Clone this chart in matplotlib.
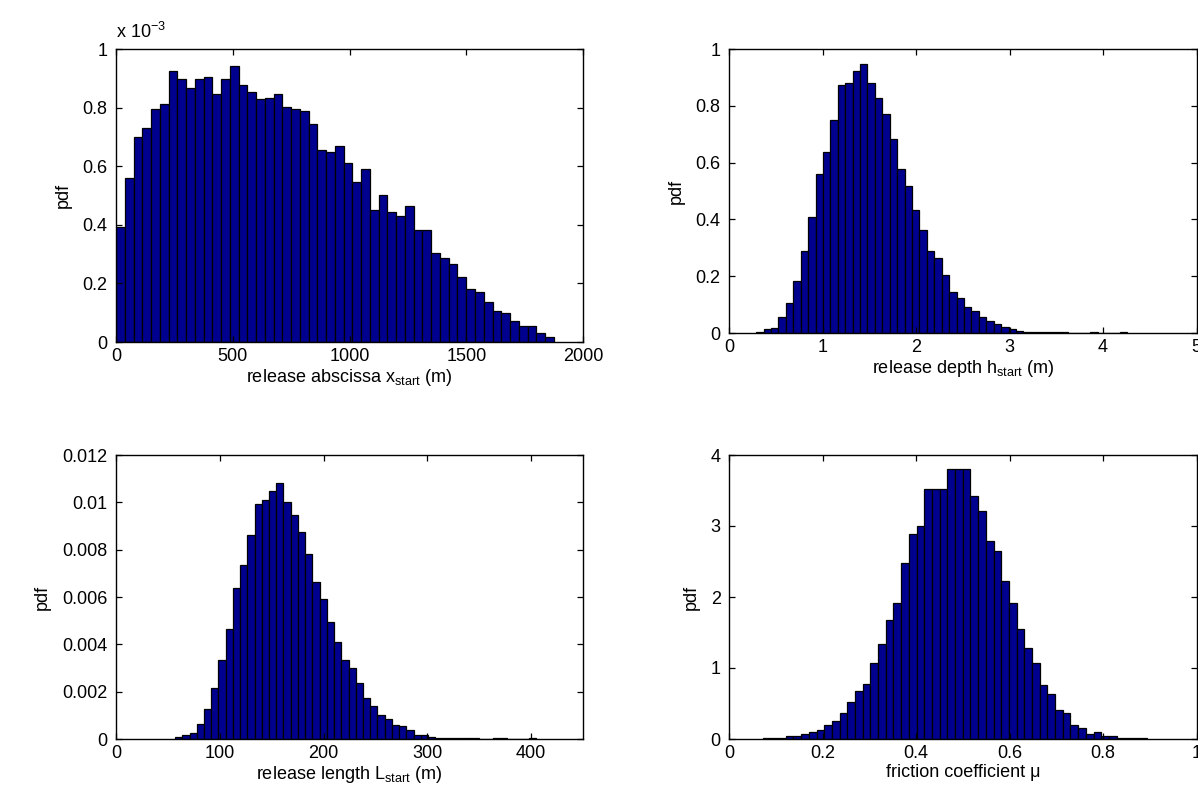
import numpy as np
import matplotlib
matplotlib.use("Agg")
import matplotlib.pyplot as plt
from matplotlib.ticker import FuncFormatter

plt.rcParams["font.family"] = ["Liberation Sans", "DejaVu Sans"]
plt.rcParams["mathtext.fontset"] = "custom"
plt.rcParams["mathtext.rm"] = "Liberation Sans"
plt.rcParams["mathtext.it"] = "Liberation Sans"
plt.rcParams["mathtext.default"] = "regular"

# Histogram data: bin range (lo, hi) with 50 equal bins, and normalized pdf heights
xstart_range = (0.0, 1875.0)
xstart_pdf = np.array([
    0.394, 0.559, 0.701, 0.731, 0.796, 0.813, 0.924, 0.898, 0.866, 0.898,
    0.904, 0.845, 0.898, 0.942, 0.877, 0.853, 0.828, 0.833, 0.845, 0.803,
    0.796, 0.789, 0.744, 0.655, 0.650, 0.669, 0.610, 0.547, 0.590, 0.450,
    0.502, 0.445, 0.431, 0.463, 0.381, 0.381, 0.304, 0.286, 0.266, 0.222,
    0.182, 0.170, 0.138, 0.107, 0.100, 0.073, 0.055, 0.055, 0.030, 0.016,
]) * 1e-3

hstart_range = (0.29, 4.26)
hstart_pdf = [
    0.005, 0.013, 0.019, 0.057, 0.105, 0.183, 0.290, 0.407, 0.560, 0.638,
    0.750, 0.873, 0.880, 0.921, 0.947, 0.880, 0.829, 0.770, 0.684, 0.577,
    0.519, 0.434, 0.363, 0.290, 0.263, 0.203, 0.144, 0.124, 0.090, 0.079,
    0.057, 0.043, 0.032, 0.022, 0.013, 0.008, 0.004, 0.003, 0.003, 0.002,
    0.002, 0.002, 0.001, 0.0, 0.0, 0.004, 0.0, 0.0, 0.0, 0.004,
]

lstart_range = (57.0, 405.0)
lstart_pdf = [
    0.00007, 0.00017, 0.00024, 0.00062, 0.00125, 0.00214, 0.00334, 0.00466, 0.00638, 0.00734,
    0.00861, 0.00993, 0.01010, 0.01049, 0.01083, 0.01003, 0.00946, 0.00875, 0.00782, 0.00663,
    0.00593, 0.00496, 0.00410, 0.00332, 0.00300, 0.00235, 0.00172, 0.00139, 0.00101, 0.00085,
    0.00061, 0.00054, 0.00038, 0.00019, 0.00018, 0.00010, 0.00005, 0.00004, 0.00004, 0.00003,
    0.00003, 0.00003, 0.00002, 0.00002, 0.00003, 0.00003, 0.0, 0.0, 0.0, 0.00004,
]

mu_range = (0.072, 0.895)
mu_pdf = [
    0.009, 0.009, 0.010, 0.040, 0.040, 0.070, 0.100, 0.127, 0.200, 0.254,
    0.360, 0.520, 0.676, 0.780, 1.075, 1.338, 1.676, 1.915, 2.474, 2.887,
    2.995, 3.516, 3.516, 3.516, 3.807, 3.807, 3.807, 3.420, 3.210, 2.789,
    2.648, 2.230, 1.915, 1.549, 1.282, 1.066, 0.760, 0.630, 0.408, 0.360,
    0.200, 0.150, 0.070, 0.100, 0.040, 0.040, 0.020, 0.020, 0.010, 0.010,
]

xlabels = [
    "release abscissa x$_{start}$ (m)",
    "release depth h$_{start}$ (m)",
    "release length L$_{start}$ (m)",
    "friction coefficient \u03bc",
]

BAR_COLOR = "#00008F"
FS = 13

W, H = 1198, 810
fig = plt.figure(figsize=(W / 100, H / 100), dpi=100)


def px_axes(x0, y0, x1, y1):
    return fig.add_axes([x0 / W, 1 - y1 / H, (x1 - x0) / W, (y1 - y0) / H])


def draw_hist(ax, rng, heights):
    heights = np.asarray(heights, dtype=float)
    edges = np.linspace(rng[0], rng[1], len(heights) + 1)
    ax.bar(edges[:-1], heights, width=np.diff(edges), align="edge",
           color=BAR_COLOR, edgecolor="black", linewidth=0.9)


def style(ax, xlim, xticks, ylim, yticks, xlabel, xfmt=None, yfmt=None):
    ax.set_xlim(*xlim)
    ax.set_ylim(*ylim)
    ax.set_xticks(xticks)
    ax.set_yticks(yticks)
    if xfmt:
        ax.xaxis.set_major_formatter(FuncFormatter(xfmt))
    if yfmt:
        ax.yaxis.set_major_formatter(FuncFormatter(yfmt))
    ax.tick_params(direction="in", top=True, right=True, length=4, width=0.9,
                   labelsize=FS, color="black")
    ax.tick_params(axis="x", pad=4)
    ax.tick_params(axis="y", pad=6)
    for sp in ax.spines.values():
        sp.set_linewidth(1.0)
    ax.set_xlabel(xlabel, fontsize=FS, labelpad=2)
    ax.set_ylabel("pdf", fontsize=FS, labelpad=8)


def g(v, _pos=None):
    return "%g" % round(v, 6)


ax1 = px_axes(116, 49, 583, 342)
draw_hist(ax1, xstart_range, xstart_pdf)
style(ax1, (0, 2000), [0, 500, 1000, 1500, 2000], (0, 1e-3),
      np.arange(0, 1.01e-3, 0.2e-3), xlabels[0],
      yfmt=lambda v, p: g(v * 1e3))
ax1.text(0.0, 1.025, "x 10$^{-3}$", transform=ax1.transAxes,
         fontsize=FS, ha="left", va="bottom")

ax2 = px_axes(729, 49, 1196.5, 333)
draw_hist(ax2, hstart_range, hstart_pdf)
style(ax2, (0, 5), [0, 1, 2, 3, 4, 5], (0, 1),
      [0, 0.2, 0.4, 0.6, 0.8, 1.0], xlabels[1], yfmt=g)

ax3 = px_axes(116, 455, 583, 739)
draw_hist(ax3, lstart_range, lstart_pdf)
style(ax3, (0, 450), [0, 100, 200, 300, 400], (0, 0.012),
      np.arange(0, 0.01201, 0.002), xlabels[2], yfmt=g)

ax4 = px_axes(729, 455, 1196.5, 739)
draw_hist(ax4, mu_range, mu_pdf)
style(ax4, (0, 1), [0, 0.2, 0.4, 0.6, 0.8, 1.0], (0, 4),
      [0, 1, 2, 3, 4], xlabels[3], xfmt=g)

fig.savefig("out.png", dpi=100)
